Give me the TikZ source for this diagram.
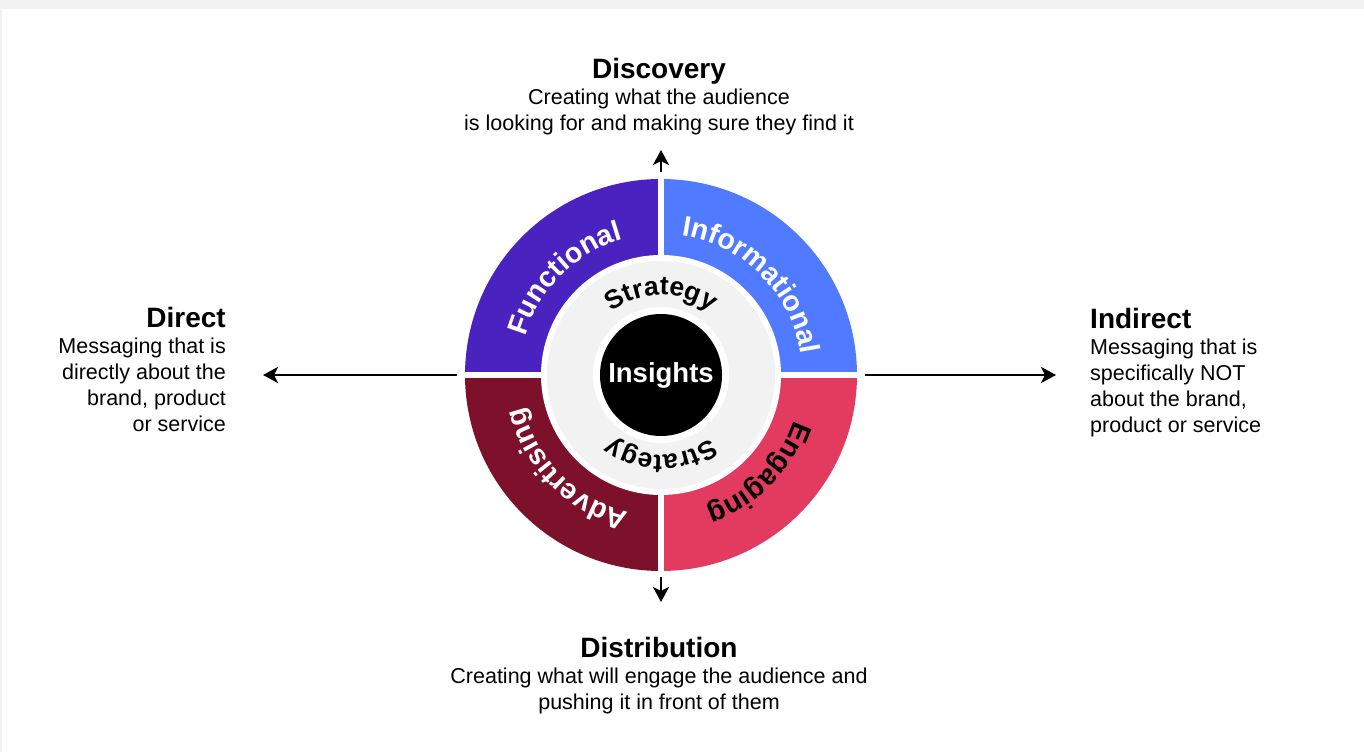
\documentclass[tikz,border=0pt]{standalone}
\usepackage{fontspec}
\setmainfont{Liberation Sans}
\usetikzlibrary{decorations.text,arrows.meta,calc}
\definecolor{cFunc}{HTML}{4922C0}
\definecolor{cInfo}{HTML}{507AFF}
\definecolor{cAdv}{HTML}{7D102A}
\definecolor{cEng}{HTML}{E33A5F}
\definecolor{cRing}{HTML}{F2F2F2}
\definecolor{cPage}{HTML}{F2F2F2}
\newcommand\titlef{\fontsize{28}{26}\selectfont\bfseries}
\newcommand\arcf{\fontsize{28.5}{28}\selectfont\bfseries}
\newcommand\strf{\fontsize{26.5}{26}\selectfont\bfseries}
\begin{document}
\begin{tikzpicture}[x=1pt,y=1pt,
  arr/.style={line width=2.9pt,-{Stealth[length=15pt,width=16pt,inset=4pt]}},
  desc/.style={inner sep=0pt,font=\fontsize{21.5}{26}\selectfont},
  sep/.style={white,line width=6.5pt}]
\useasboundingbox (0,0) rectangle (1364,752);
\fill[cPage] (0,0) rectangle (1364,752);
\fill[white] (2,0) rectangle (1364,743);
\coordinate (C) at (661,377);
% quadrants
\fill[cFunc] (C) -- ++(180:196pt) arc[start angle=180,end angle=90,radius=196pt] -- cycle;
\fill[cInfo] (C) -- ++(90:196pt) arc[start angle=90,end angle=0,radius=196pt] -- cycle;
\fill[cEng] (C) -- ++(0:196pt) arc[start angle=0,end angle=-90,radius=196pt] -- cycle;
\fill[cAdv] (C) -- ++(-90:196pt) arc[start angle=-90,end angle=-180,radius=196pt] -- cycle;
\draw[sep] ($(C)+(-200pt,0)$) -- ($(C)+(200pt,0)$);
\draw[sep] ($(C)+(0,-200pt)$) -- ($(C)+(0,200pt)$);
\fill[white] (C) circle[radius=120pt];
\fill[cRing] (C) circle[radius=114pt];
\fill[white] (C) circle[radius=68pt];
\fill[black] (C) circle[radius=61pt];
% arc texts
\path[decorate,decoration={text along path,text align=center,text={|\arcf\color{white}|Functional}}]
  ($(C)+(179:141pt)$) arc[start angle=179,end angle=91,radius=141pt];
\path[decorate,decoration={text along path,text align=center,text={|\arcf\color{white}|Informational}}]
  ($(C)+(89:141pt)$) arc[start angle=89,end angle=1,radius=141pt];
\path[decorate,decoration={text along path,text align=center,text={|\arcf\color{black}|Engaging}}]
  ($(C)+(-1:141pt)$) arc[start angle=-1,end angle=-89,radius=141pt];
\path[decorate,decoration={text along path,text align=center,text={|\arcf\color{white}|Advertising}}]
  ($(C)+(-91:141pt)$) arc[start angle=-91,end angle=-179,radius=141pt];
\path[decorate,decoration={text along path,text align=center,text={|\strf\color{black}|Strategy}}]
  ($(C)+(135:80pt)$) arc[start angle=135,end angle=45,radius=80pt];
\path[decorate,decoration={text along path,text align=center,text={|\strf\color{black}|Strategy}}]
  ($(C)+(-45:80pt)$) arc[start angle=-45,end angle=-135,radius=80pt];
\node[inner sep=0pt,anchor=base,text=white,font=\fontsize{27.5}{27}\selectfont\bfseries] (ins) at (661,369) {Insights};
% arrows
\coordinate (ls) at (457,377); \coordinate (le) at (263,377);
\coordinate (rs) at (865,377); \coordinate (re) at (1056,377);
\coordinate (us) at (661,580); \coordinate (ue) at (661,602);
\coordinate (ds) at (661,175); \coordinate (de) at (661,150);
\draw[arr] (ls) -- (le);
\draw[arr] (rs) -- (re);
\draw[arr] (us) -- (ue);
\draw[arr] (ds) -- (de);
% labels
\node[desc,align=center,anchor=north] (disc) at (659,694)
  {{\titlef Discovery}\\Creating what the audience\\is looking for and making sure they find it};
\node[desc,align=right,anchor=north east] (dir) at (226,445)
  {{\titlef Direct}\\Messaging that is\\directly about the\\brand, product\\or service};
\node[desc,align=left,anchor=north west] (ind) at (1090,444)
  {{\titlef Indirect}\\Messaging that is\\specifically NOT\\about the brand,\\product or service};
\node[desc,align=center,anchor=north] (dist) at (659,115)
  {{\titlef Distribution}\\Creating what will engage the audience and\\pushing it in front of them};
\end{tikzpicture}
\end{document}
